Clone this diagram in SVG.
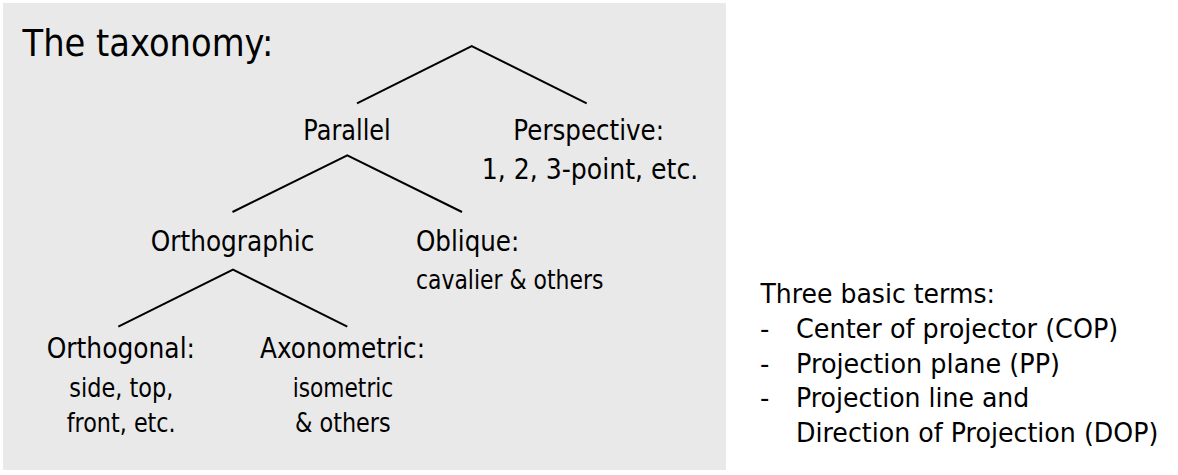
<svg xmlns="http://www.w3.org/2000/svg" width="1178" height="475" viewBox="0 0 1178 475">
<style>
text{font-family:"DejaVu Sans","Liberation Sans",sans-serif;fill:#000}
.t{font-size:38px}
.n{font-size:28px}
.s{font-size:26px}
.r{font-size:26px}
.e{stroke:#000;stroke-width:2;fill:none;stroke-linecap:butt;stroke-linejoin:miter}
</style>
<rect x="3" y="3" width="723" height="467" fill="#e9e9e9"/>
<text class="t" x="22.5" y="56" textLength="251" lengthAdjust="spacingAndGlyphs">The taxonomy:</text>
<g id="connectors">
<polyline class="e" points="357,103.3 471.7,46 586.7,103.3"/>
<polyline class="e" points="232.5,212 347.3,155.3 462,212"/>
<polyline class="e" points="118.3,326.7 233,269.7 347.3,326.7"/>
</g>
<g id="parallel"><text class="n" x="303.3" y="139.5" textLength="87.5" lengthAdjust="spacingAndGlyphs">Parallel</text></g>
<g id="perspective">
<text class="n" x="513.3" y="140" textLength="150.7" lengthAdjust="spacingAndGlyphs">Perspective:</text>
<text class="n" x="481.7" y="179.3" textLength="216.6" lengthAdjust="spacingAndGlyphs">1, 2, 3-point, etc.</text>
</g>
<g id="orthographic"><text class="n" x="150.7" y="250.7" textLength="163.6" lengthAdjust="spacingAndGlyphs">Orthographic</text></g>
<g id="oblique">
<text class="n" x="416" y="250.7" textLength="103.3" lengthAdjust="spacingAndGlyphs">Oblique:</text>
<text class="s" x="416" y="289.3" textLength="187.3" lengthAdjust="spacingAndGlyphs">cavalier &amp; others</text>
</g>
<g id="orthogonal">
<text class="n" x="46.7" y="358.3" textLength="148.3" lengthAdjust="spacingAndGlyphs">Orthogonal:</text>
<text class="s" x="69.3" y="396.7" textLength="104" lengthAdjust="spacingAndGlyphs">side, top,</text>
<text class="s" x="66.7" y="431.7" textLength="109" lengthAdjust="spacingAndGlyphs">front, etc.</text>
</g>
<g id="axonometric">
<text class="n" x="260" y="358.3" textLength="165" lengthAdjust="spacingAndGlyphs">Axonometric:</text>
<text class="s" x="292.7" y="396.7" textLength="100.6" lengthAdjust="spacingAndGlyphs">isometric</text>
<text class="s" x="295" y="431.7" textLength="95.7" lengthAdjust="spacingAndGlyphs">&amp; others</text>
</g>
<g id="terms">
<text class="r" x="760.5" y="303.3" textLength="234.5" lengthAdjust="spacingAndGlyphs">Three basic terms:</text>
<text class="r" x="760" y="338.3">-</text>
<text class="r" x="796" y="338.3" textLength="322.3" lengthAdjust="spacingAndGlyphs">Center of projector (COP)</text>
<text class="r" x="760" y="373.3">-</text>
<text class="r" x="796" y="373.3" textLength="264" lengthAdjust="spacingAndGlyphs">Projection plane (PP)</text>
<text class="r" x="760" y="407.3">-</text>
<text class="r" x="796" y="407.3" textLength="233.3" lengthAdjust="spacingAndGlyphs">Projection line and</text>
<text class="r" x="796" y="441.7" textLength="362.3" lengthAdjust="spacingAndGlyphs">Direction of Projection (DOP)</text>
</g>
</svg>
